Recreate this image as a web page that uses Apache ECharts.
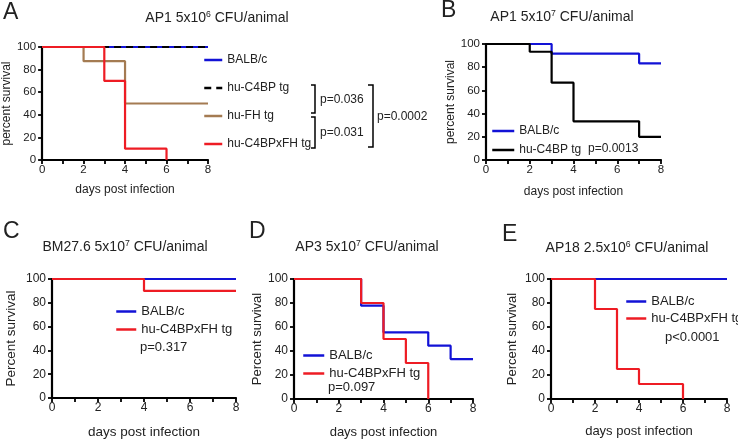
<!DOCTYPE html>
<html>
<head>
<meta charset="utf-8">
<script src="https://cdn.jsdelivr.net/npm/echarts@6/dist/echarts.min.js"></script>
<style>
html,body{margin:0;padding:0;background:#fff}
#main{width:738px;height:440px}
</style>
</head>
<body>
<div id="main"></div>
<script>
// days post infection (x) and percent survival (y) at every step
var aBalbX = [0, 8],          aBalbY = [100, 100];
var aC4bpX = [0, 8],          aC4bpY = [100, 100];
var aFhX   = [0, 2, 4, 8],    aFhY   = [100, 87.5, 50, 50];
var aDblX  = [0, 3, 4, 6],    aDblY  = [100, 70, 10, 0];

var bBalbX = [0, 3, 7, 8],          bBalbY = [100, 91.7, 83.3, 83.3];
var bC4bpX = [0, 2, 3, 4, 7, 8],    bC4bpY = [100, 93.3, 66.7, 33.3, 20, 20];

var cBalbX = [0, 8],       cBalbY = [100, 100];
var cDblX  = [0, 4, 8],    cDblY  = [100, 90, 90];

var dBalbX = [0, 3, 4, 6, 7, 8],   dBalbY = [100, 77.8, 55.6, 44.4, 33.3, 33.3];
var dDblX  = [0, 3, 4, 5, 6],      dDblY  = [100, 80, 50, 30, 0];

var eBalbX = [0, 8],             eBalbY = [100, 100];
var eDblX  = [0, 2, 3, 4, 6],    eDblY  = [100, 75, 25, 12.5, 0];

var xTickLabels = [0, 2, 4, 6, 8];
var pA = ['p=0.036', 'p=0.031', 'p=0.0002'];
var pB = 'p=0.0013', pC = 'p=0.317', pD = 'p=0.097', pE = 'p<0.0001';

var BLUE = '#1212d6', RED = '#ee1c24', BROWN = '#a47b52', BLACK = '#000';
var FONT = 'Liberation Sans, Arial, sans-serif';

function pts(xs, ys) {
    var out = [];
    for (var i = 0; i < xs.length; i++) out.push([xs[i], ys[i]]);
    return out;
}

function line(name, g, xs, ys, color, dashed) {
    return {
        name: name, type: 'line', step: 'end',
        xAxisIndex: g, yAxisIndex: g,
        symbol: 'none', animation: false,
        lineStyle: {color: color, width: 2.2, type: dashed ? [7, 5] : 'solid'},
        itemStyle: {color: color},
        data: pts(xs, ys)
    };
}

var grids = [
    {left: 42,  top: 47,  width: 166, height: 113},
    {left: 486, top: 44,  width: 175, height: 116},
    {left: 52,  top: 279, width: 184, height: 120},
    {left: 294, top: 279, width: 179, height: 120},
    {left: 551, top: 279, width: 176, height: 120}
];
// per panel: y name, label size, name size, y name gap, x name gap
var axisCfg = [
    ['percent survival', 11.5, 12, 22, 24],
    ['percent survival', 11.5, 12, 24, 26],
    ['Percent survival', 12, 13.5, 34, 27],
    ['Percent survival', 12, 13, 29, 27],
    ['Percent survival', 12, 13, 32, 26]
];

var xAxes = [], yAxes = [];
axisCfg.forEach(function (c, i) {
    var axLine = {lineStyle: {color: '#000', width: 2.2}};
    xAxes.push({
        gridIndex: i, type: 'value', min: 0, max: 8, interval: 1,
        name: 'days post infection', nameLocation: 'middle', nameGap: c[4],
        nameTextStyle: {color: '#222', fontSize: c[2], fontFamily: FONT},
        axisLine: axLine,
        axisTick: {length: 4, lineStyle: {width: 1.8, color: '#000'}},
        axisLabel: {
            margin: 4, color: '#222', fontSize: c[1], fontFamily: FONT,
            formatter: function (v) { return xTickLabels.indexOf(v) >= 0 ? String(v) : ''; }
        },
        splitLine: {show: false}
    });
    yAxes.push({
        gridIndex: i, type: 'value', min: 0, max: 100, interval: 20,
        name: c[0], nameLocation: 'middle', nameGap: c[3], nameRotate: 90,
        nameTextStyle: {color: '#222', fontSize: c[2], fontFamily: FONT},
        axisLine: axLine,
        axisTick: {length: 4, lineStyle: {width: 1.8, color: '#000'}},
        axisLabel: {margin: 6, color: '#222', fontSize: c[1], fontFamily: FONT},
        splitLine: {show: false}
    });
});

var series = [
    line('BALB/c', 0, aBalbX, aBalbY, BLUE),
    line('hu-C4BP tg', 0, aC4bpX, aC4bpY, BLACK, true),
    line('hu-FH tg', 0, aFhX, aFhY, BROWN),
    line('hu-C4BPxFH tg', 0, aDblX, aDblY, RED),
    line('BALB/c', 1, bBalbX, bBalbY, BLUE),
    line('hu-C4BP tg', 1, bC4bpX, bC4bpY, BLACK),
    line('BALB/c', 2, cBalbX, cBalbY, BLUE),
    line('hu-C4BPxFH tg', 2, cDblX, cDblY, RED),
    line('BALB/c', 3, dBalbX, dBalbY, BLUE),
    line('hu-C4BPxFH tg', 3, dDblX, dDblY, RED),
    line('BALB/c', 4, eBalbX, eBalbY, BLUE),
    line('hu-C4BPxFH tg', 4, eDblX, eDblY, RED)
];

function legend(data, left, top, w, gap, fs) {
    return {
        data: data, left: left, top: top, orient: 'vertical', padding: 0,
        itemWidth: w, itemHeight: 14, itemGap: gap, selectedMode: false,
        itemStyle: {opacity: 0},
        lineStyle: {width: 2.5},
        textStyle: {color: '#222', fontSize: fs, fontFamily: FONT}
    };
}
var legends = [
    legend(['BALB/c', 'hu-C4BP tg', 'hu-FH tg', 'hu-C4BPxFH tg'], 203, 54, 18, 16, 12),
    legend([{name: 'BALB/c'}, {name: 'hu-C4BP tg', lineStyle: {type: 'solid', color: BLACK}}], 491, 125, 22, 7, 12),
    legend(['BALB/c', 'hu-C4BPxFH tg'], 115, 305, 20, 5, 13),
    legend(['BALB/c', 'hu-C4BPxFH tg'], 302, 349, 21, 5, 13),
    legend(['BALB/c', 'hu-C4BPxFH tg'], 625, 295, 20, 4, 13)
];

function txt(s, x, y, fs, align) {
    return {type: 'text', x: x, y: y, silent: true,
        style: {text: s, fill: '#222', font: fs + 'px ' + FONT,
            textAlign: align || 'left', textVerticalAlign: 'middle'}};
}
function title(pre, sup, post, x, y, fs) {
    return {type: 'text', x: x, y: y, silent: true,
        style: {text: '{n|' + pre + '}{s|' + sup + '}{n|' + post + '}',
            textAlign: 'center', textVerticalAlign: 'middle',
            rich: {
                n: {fontSize: fs, fontFamily: FONT, fill: '#222'},
                s: {fontSize: fs * 0.62, fontFamily: FONT, fill: '#222', padding: [0, 0, fs * 0.5, 0]}
            }}};
}
function bracket(pointsArr) {
    return {type: 'polyline', silent: true, shape: {points: pointsArr},
        style: {stroke: '#000', lineWidth: 1.5, fill: null}};
}

var graphic = [
    txt('A', 3, 13, 23), txt('B', 441, 11, 23), txt('C', 3, 232, 23),
    txt('D', 249, 232, 23), txt('E', 502, 235, 23),
    title('AP1 5x10', '6', ' CFU/animal', 217, 18, 14),
    title('AP1 5x10', '7', ' CFU/animal', 562, 17, 14),
    title('BM27.6 5x10', '7', ' CFU/animal', 125, 247, 14),
    title('AP3 5x10', '7', ' CFU/animal', 367, 247, 14),
    title('AP18 2.5x10', '6', ' CFU/animal', 627, 248, 14),
    bracket([[311, 85], [315, 85], [315, 113], [311, 113]]),
    bracket([[311, 117], [315, 117], [315, 148], [311, 148]]),
    bracket([[368, 85], [373, 85], [373, 147], [368, 147]]),
    txt(pA[0], 320, 100, 12), txt(pA[1], 320, 133, 12), txt(pA[2], 377, 117, 12),
    txt(pB, 588, 149, 12), txt(pC, 140, 347, 13), txt(pD, 328, 387, 13),
    txt(pE, 665, 337, 13)
];

var chart = echarts.init(document.getElementById('main'), null, {renderer: 'canvas'});
chart.setOption({
    backgroundColor: '#fff',
    animation: false,
    grid: grids,
    xAxis: xAxes,
    yAxis: yAxes,
    legend: legends,
    series: series,
    graphic: graphic
});
</script>
</body>
</html>
